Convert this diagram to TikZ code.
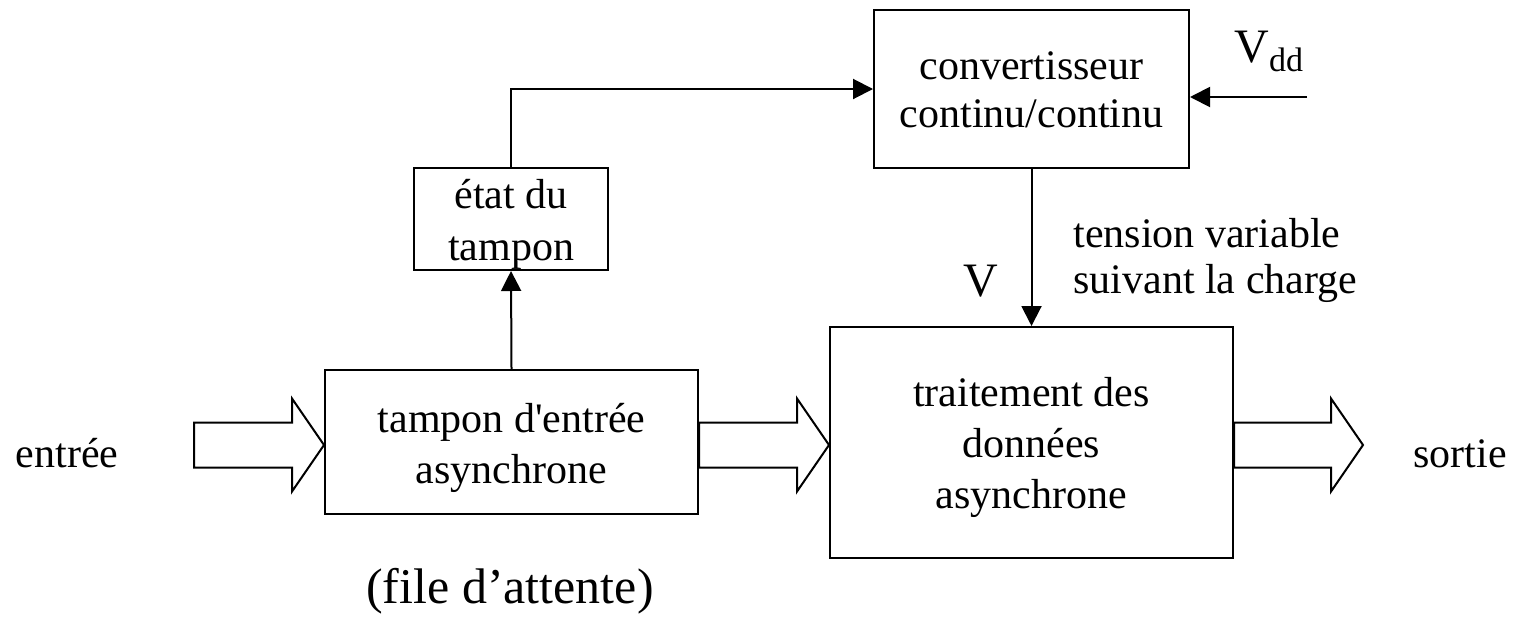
\documentclass[tikz,border=0pt]{standalone}
\usepackage{fontspec}
\setmainfont{Liberation Serif}
\usetikzlibrary{arrows.meta,calc}
\newcommand\blockarr[2]{%
  \draw[hollow] ($(#1)+(0,-22.5)$) -- ($(#2)+(-32,-22.5)$) -- ($(#2)+(-32,-46.5)$)
    -- (#2) -- ($(#2)+(-32,46.5)$) -- ($(#2)+(-32,22.5)$) -- ($(#1)+(0,22.5)$) -- cycle;}
\begin{document}
\begin{tikzpicture}[x=0.5pt,y=-0.5pt,
  box/.style={draw, line width=1pt, inner sep=0pt},
  txt/.style={inner sep=0pt, align=center, font=\fontsize{21}{25.5}\selectfont},
  lbl/.style={inner sep=0pt, font=\fontsize{21}{25.5}\selectfont},
  conn/.style={line width=1pt, -{Triangle[length=10pt,width=10pt]}},
  hollow/.style={draw, line width=1pt, line join=miter, fill=white}]
\useasboundingbox (0,0) rectangle (1513,616);

% boxes
\node[box, minimum width=186.5pt, minimum height=72pt] (tampon) at (511.5,442) {};
\node[box, minimum width=201.5pt, minimum height=115.5pt] (trait) at (1031.5,442.5) {};
\node[box, minimum width=157.5pt, minimum height=79pt] (conv) at (1031.5,89) {};
\node[box, minimum width=97pt, minimum height=51pt] (etat) at (511,219) {};

% box texts
\node[txt, yshift=-2.75pt] (tamponT) at (tampon.center) {tampon d\textquotesingle entrée\\asynchrone};
\node[txt, yshift=-2.5pt] (traitT) at (trait.center) {traitement des\\données\\asynchrone};
\node[txt, yshift=-0.5pt, font=\fontsize{21}{24}\selectfont] (convT) at (conv.center) {convertisseur\\continu/continu};
\node[txt, yshift=-2.5pt, font=\fontsize{21}{26}\selectfont] (etatT) at (etat.center) {état du\\tampon};

% hollow block arrows
\coordinate (inA) at (194,445);
\coordinate (tA) at (tampon.west |- inA);
\coordinate (mA) at (tampon.east |- inA);
\coordinate (mB) at (trait.west |- inA);
\coordinate (rA) at (trait.east |- inA);
\coordinate (outB) at (1363,445);
\blockarr{inA}{tA}
\blockarr{mA}{mB}
\blockarr{rA}{outB}

% connectors
\draw[conn] (tampon.north) -- (etat.south);
\draw[conn] (etat.north) |- (conv.west);
\coordinate (vddin) at (1307,97);
\draw[conn] (vddin) -- (conv.east |- vddin);
\draw[conn] (conv.south) -- (trait.north);

% labels
\node[lbl, anchor=base] (entree) at (67,467) {entrée};
\node[lbl, anchor=base] (sortie) at (1460,467) {sortie};
\node[lbl, anchor=base, font=\fontsize{25}{30}\selectfont] (file) at (510,603) {(file d’attente)};
\node[lbl, anchor=base, font=\fontsize{24}{28}\selectfont] (vlab) at (981,296) {V};
\node[lbl, anchor=base west] (vdd) at (1234,62) {\fontsize{24}{28}\selectfont V\raisebox{-4.5pt}{\fontsize{17}{20}\selectfont dd}};
\node[lbl, anchor=west, align=left, font=\fontsize{21}{23}\selectfont] (tens) at (1073,260) {tension variable\\suivant la charge};
\end{tikzpicture}
\end{document}
